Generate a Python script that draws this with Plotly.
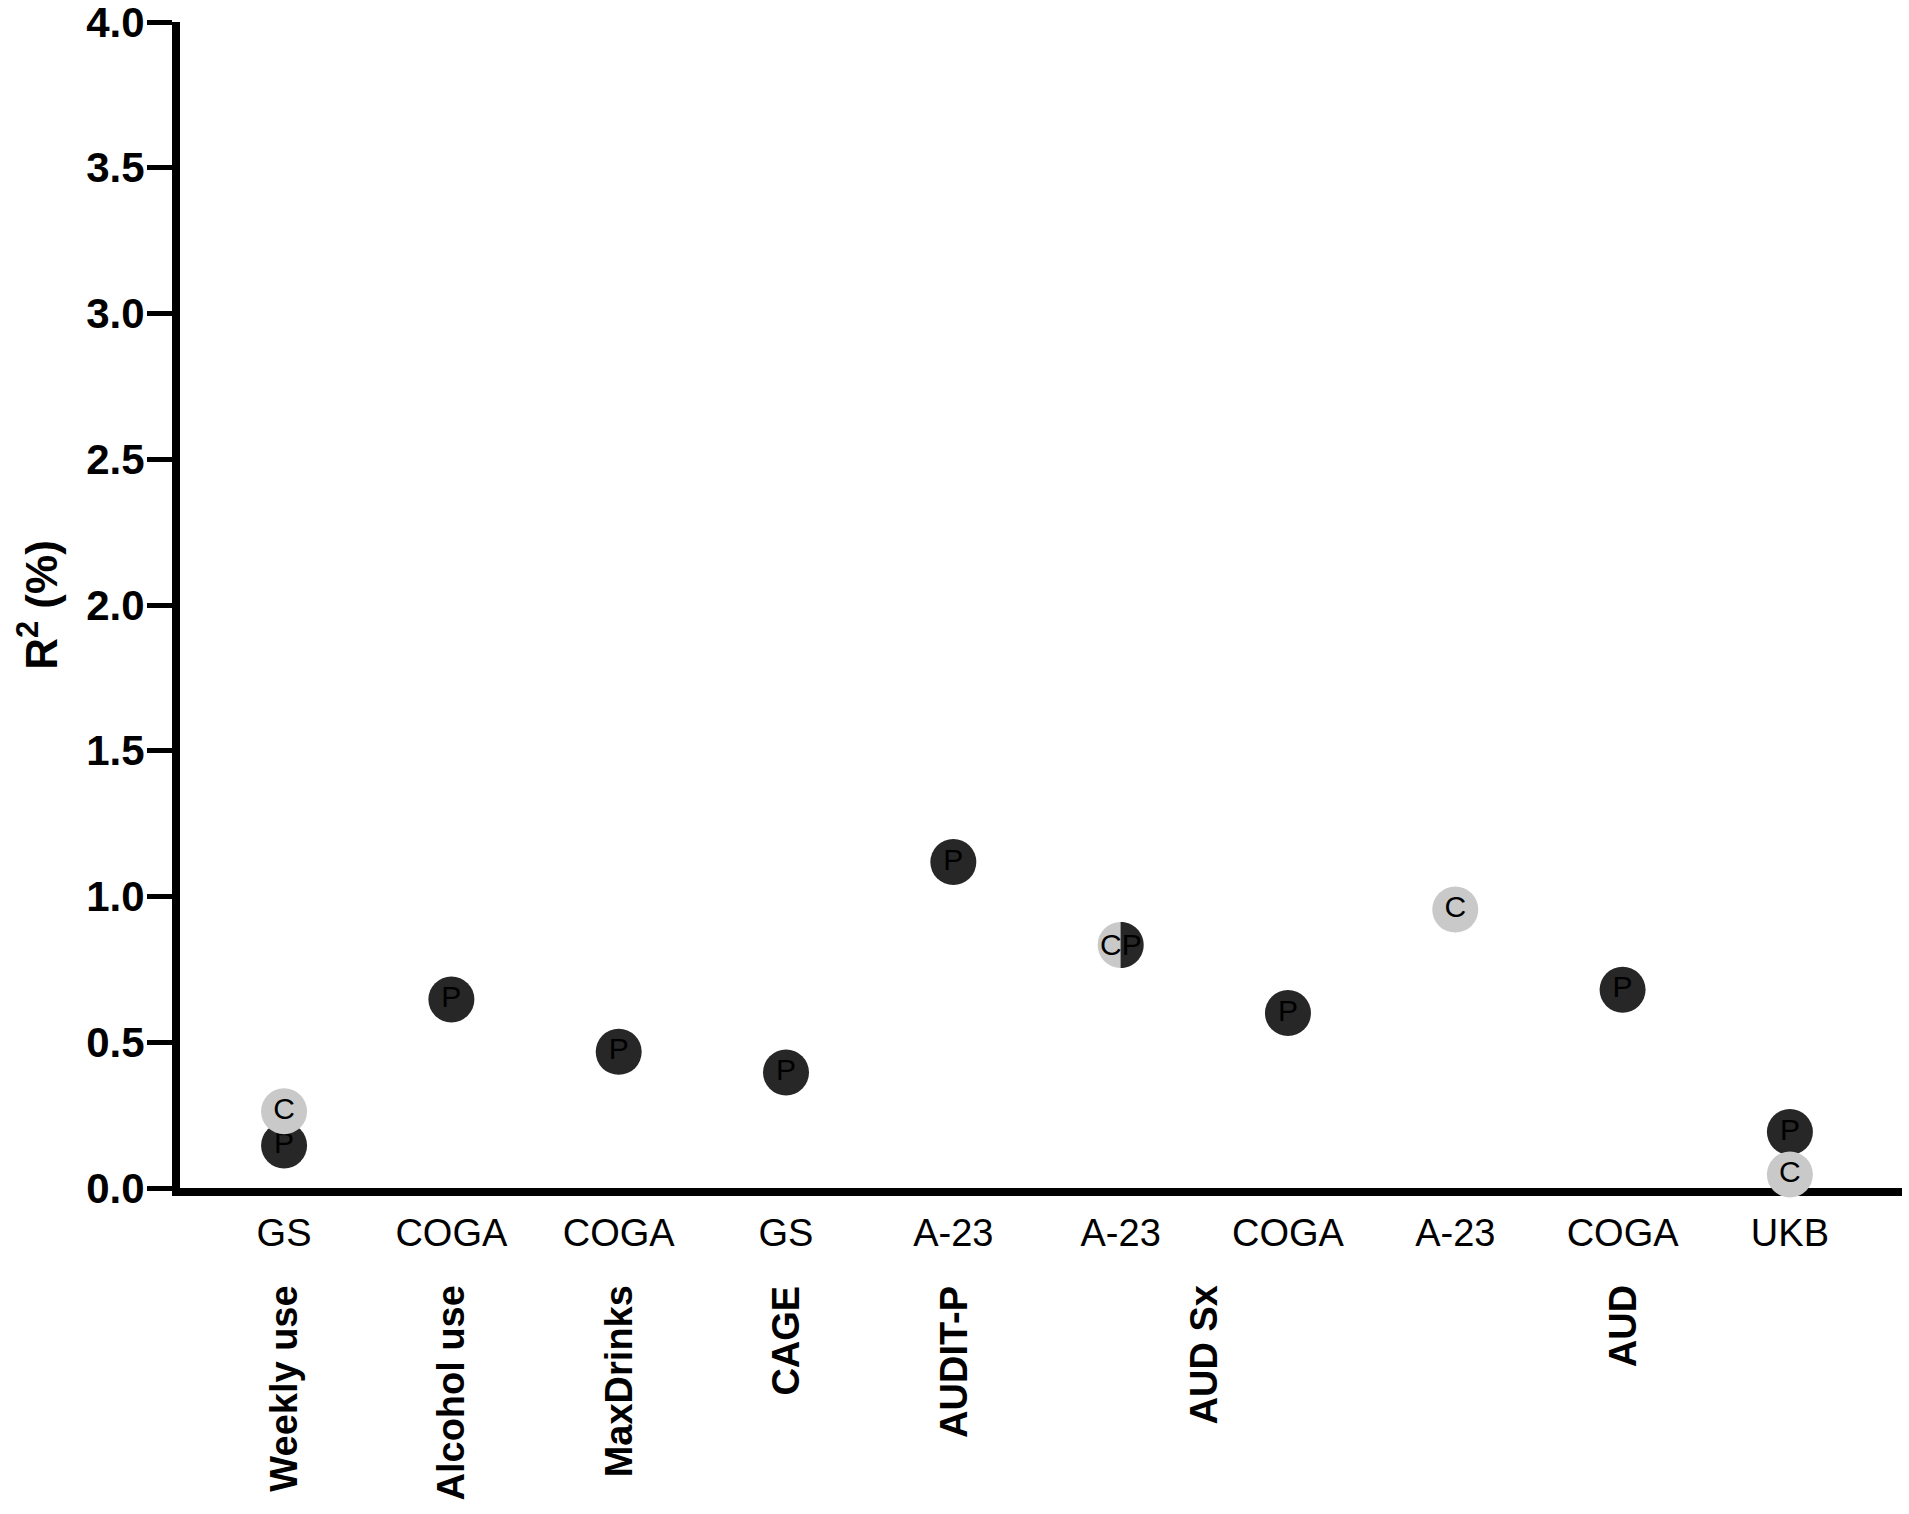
import plotly.graph_objects as go

# ---- data ----
datasets = ["GS", "COGA", "COGA", "GS", "A-23", "A-23", "COGA", "A-23", "COGA", "UKB"]
phenotypes = ["Weekly use", "Alcohol use", "MaxDrinks", "CAGE", "AUDIT-P",
              "AUD Sx", "AUD Sx", "AUD", "AUD", "AUD"]
r2_P = [0.146, 0.647, 0.467, 0.396, 1.118, 0.834, 0.600, None, 0.680, 0.192]
r2_C = [0.263, None, None, None, None, 0.834, None, 0.955, None, 0.046]
y_ticks = [0.0, 0.5, 1.0, 1.5, 2.0, 2.5, 3.0, 3.5, 4.0]

FONT = "Liberation Sans, Arial, sans-serif"
DARK = "#272727"
LIGHT = "#c9c9c9"
MSIZE = 46
TXT = 30

pos = list(range(len(datasets)))

# points where C and P coincide -> drawn as split (half/half) marker
same = [c is not None and p is not None and abs(c - p) < 1e-9 for c, p in zip(r2_C, r2_P)]

P_y = [None if s else p for p, s in zip(r2_P, same)]
P_text = ["P" if v is not None else "" for v in P_y]
C_text = ["" if s else ("C" if c is not None else "") for c, s in zip(r2_C, same)]

fig = go.Figure()
fig.add_trace(go.Scatter(
    x=pos, y=P_y, mode="markers+text", text=P_text,
    textposition="middle center",
    textfont=dict(family=FONT, size=TXT, color="black"),
    marker=dict(size=MSIZE, color=DARK, line=dict(width=0)),
    cliponaxis=False, showlegend=False, hoverinfo="skip"))
fig.add_trace(go.Scatter(
    x=pos, y=r2_C, mode="markers+text", text=C_text,
    textposition="middle center",
    textfont=dict(family=FONT, size=TXT, color="black"),
    marker=dict(size=MSIZE, color=LIGHT, line=dict(width=0)),
    cliponaxis=False, showlegend=False, hoverinfo="skip"))

# split markers: dark right half over light circle
r = MSIZE / 2
k = 0.5523 * r
half_path = (f"M 0,{-r} C {k},{-r} {r},{-k} {r},0 C {r},{k} {k},{r} 0,{r} Z")
for i, s in enumerate(same):
    if s:
        fig.add_shape(type="path", xref="x", yref="y",
                      xsizemode="pixel", ysizemode="pixel",
                      xanchor=pos[i], yanchor=r2_C[i], path=half_path,
                      fillcolor=DARK, line=dict(width=0), layer="above")
        fig.add_annotation(x=pos[i], y=r2_C[i], xref="x", yref="y",
                           text="CP", showarrow=False,
                           font=dict(family=FONT, size=TXT, color="black"))

# phenotype group labels (rotated, bold)
groups = []
for i, ph in enumerate(phenotypes):
    if groups and groups[-1][0] == ph:
        groups[-1][1].append(pos[i])
    else:
        groups.append((ph, [pos[i]]))
for name, members in groups:
    fig.add_annotation(x=sum(members) / len(members), xref="x",
                       y=-0.082, yref="paper", yanchor="top", xanchor="center",
                       text=name, textangle=-90, showarrow=False,
                       font=dict(family=FONT, size=38, color="black", weight="bold"))

fig.update_layout(
    width=1909, height=1514,
    margin=dict(l=180, r=7, t=22, b=326),
    paper_bgcolor="white", plot_bgcolor="white",
    font=dict(family=FONT, color="black"),
    xaxis=dict(
        range=[-0.622, 9.67], tickmode="array", tickvals=pos, ticktext=datasets,
        showgrid=False, zeroline=False, showline=True, linewidth=8, linecolor="black",
        ticks="", tickfont=dict(family=FONT, size=38, color="black"),
        ticklabelstandoff=4, layer="below traces", automargin=False),
    yaxis=dict(
        range=[0, 4], tickmode="array", tickvals=y_ticks,
        ticktext=[f"{v:.1f}" for v in y_ticks],
        showgrid=False, zeroline=False, showline=True, linewidth=8, linecolor="black",
        ticks="outside", ticklen=25, tickwidth=5, tickcolor="black",
        tickfont=dict(family=FONT, size=42, color="black", weight="bold"),
        ticklabelstandoff=-6, ticklabeloverflow="allow", automargin=False,
        title=dict(text="R<sup>2</sup> (%)", standoff=18,
                   font=dict(family=FONT, size=44, color="black", weight="bold"))),
)

fig.write_html("out.html", config={"displayModeBar": False},
               post_script="document.body.style.margin='0';")
